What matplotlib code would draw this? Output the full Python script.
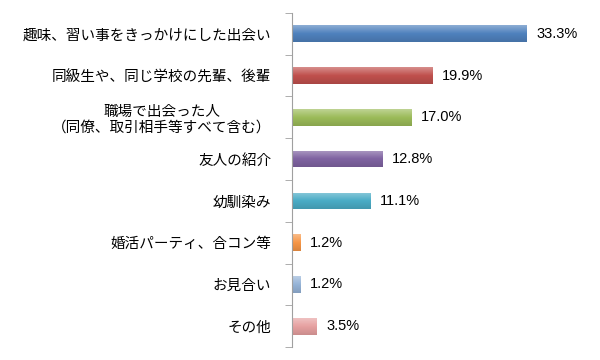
import numpy as np
import matplotlib
matplotlib.use("Agg")
from matplotlib import pyplot as plt
from matplotlib.colors import LinearSegmentedColormap, to_rgb

plt.rcParams['font.family'] = ['Noto Sans CJK JP', 'DejaVu Sans']

labels = ["趣味、習い事をきっかけにした出会い",
          "同級生や、同じ学校の先輩、後輩",
          "職場で出会った人\n（同僚、取引相手等すべて含む）",
          "友人の紹介",
          "幼馴染み",
          "婚活パーティ、合コン等",
          "お見合い",
          "その他"]
values = [33.3, 19.9, 17.0, 12.8, 11.1, 1.2, 1.2, 3.5]
colors = ["#4F81BD", "#C0504D", "#9BBB59", "#8064A2",
          "#4BACC6", "#F79646", "#95B3D7", "#E6A0A0"]


def shade(c, f):
    r = np.array(to_rgb(c))
    if f > 0:
        return tuple(r + (1 - r) * f)
    return tuple(r * (1 + f))


fig = plt.figure(figsize=(6, 3.6), dpi=100)
ax = fig.add_axes([0.487, 0.036, 0.47, 0.928])

y = np.arange(len(values))
bars = ax.barh(y, values, height=0.4, color=colors, edgecolor="none")

# vertical gradient on each bar, lighter at the top
grad = np.linspace(0, 1, 50).reshape(-1, 1)
for b, c in zip(bars, colors):
    cmap = LinearSegmentedColormap.from_list(
        "g", [shade(c, 0.35), c, shade(c, -0.12)])
    x0, y0 = b.get_x(), b.get_y()
    w, h = b.get_width(), b.get_height()
    im = ax.imshow(grad, cmap=cmap, aspect="auto",
                   extent=[x0, x0 + w, y0, y0 + h], origin="lower", zorder=2)
    im.set_clip_path(b)

for yi, v in zip(y, values):
    ax.text(v + 1.3, yi, f"{v:.1f}%", va="center", ha="left", fontsize=10.5,
            family=['Liberation Sans', 'DejaVu Sans'])

ax.set_ylim(len(values) - 0.5, -0.5)
ax.set_xlim(0, 40)
ax.set_yticks(y)
ax.set_yticklabels(labels, fontsize=10.5, multialignment="center")
ax.set_yticks(np.arange(len(values) + 1) - 0.5, minor=True)
ax.tick_params(axis="y", which="major", length=0, pad=15)
ax.tick_params(axis="y", which="minor", length=5, color="#A0A0A0", direction="out")
ax.set_xticks([])
for s in ["top", "right", "bottom"]:
    ax.spines[s].set_visible(False)
ax.spines["left"].set_color("#A0A0A0")

fig.savefig("out.png", dpi=100)
